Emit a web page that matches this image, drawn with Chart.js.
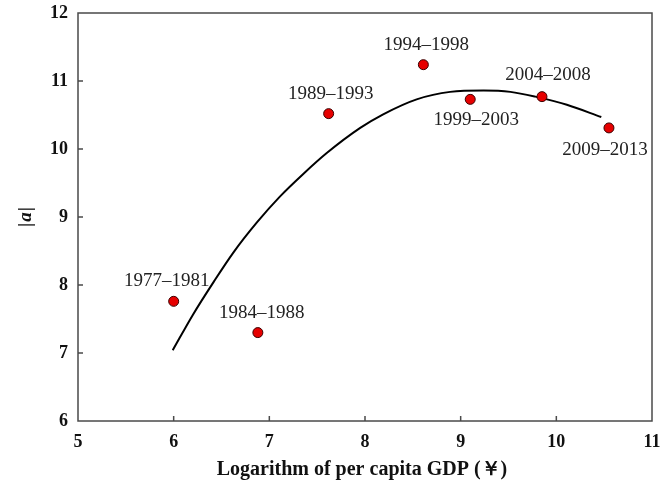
<!DOCTYPE html>
<html>
<head>
<meta charset="utf-8">
<script src="https://cdn.jsdelivr.net/npm/chart.js@4/dist/chart.umd.min.js"></script>
<style>
    html, body { margin: 0; padding: 0; background: #fff; }
    #canvas { display: block; }
</style>
</head>
<body>
<canvas id="canvas" width="662" height="481"></canvas>
<script>
// observed periods
var periods = ['1977–1981', '1984–1988', '1989–1993', '1994–1998', '1999–2003', '2004–2008', '2009–2013'];
var gdpLog = [6.00, 6.88, 7.62, 8.61, 9.10, 9.85, 10.55];
var absA = [7.76, 7.30, 10.52, 11.24, 10.73, 10.77, 10.31];

// fitted curve
var fitX = [5.99, 6.20, 6.42, 6.62, 6.87, 7.11, 7.36, 7.60, 7.95, 8.19, 8.54, 8.89, 9.24, 9.52, 9.78, 10.11, 10.47];
var fitY = [7.04, 7.56, 8.05, 8.47, 8.92, 9.30, 9.64, 9.94, 10.31, 10.51, 10.73, 10.84, 10.86, 10.84, 10.77, 10.65, 10.47];

var xTicks = [5, 6, 7, 8, 9, 10, 11];
var yTicks = [6, 7, 8, 9, 10, 11, 12];

// label offsets from each point (px)
var labelDx = [-7, 4, 2, 3, 6, 6, -4];
var labelDy = [-20, -20, -20, -20, 21, -22, 22];

var serif = '"Liberation Serif", "Times New Roman", serif';

var points = [];
for (var i = 0; i < gdpLog.length; i++) {
    points.push({x: gdpLog[i], y: absA[i]});
}
var curve = [];
for (var j = 0; j < fitX.length; j++) {
    curve.push({x: fitX[j], y: fitY[j]});
}

function noPadding(s) {
    s.paddingTop = 0;
    s.paddingBottom = 0;
    s.paddingLeft = 0;
    s.paddingRight = 0;
}

var framePlugin = {
    id: 'frame',
    afterDraw: function (chart) {
        var ctx = chart.ctx;
        var area = chart.chartArea;
        var xs = chart.scales.x;
        var ys = chart.scales.y;
        ctx.save();

        // box
        ctx.strokeStyle = '#4a4a4a';
        ctx.lineWidth = 1.5;
        ctx.strokeRect(area.left, area.top, area.right - area.left, area.bottom - area.top);

        // inner tick marks
        ctx.beginPath();
        xTicks.forEach(function (v) {
            if (v === xs.min || v === xs.max) return;
            var px = xs.getPixelForValue(v);
            ctx.moveTo(px, area.bottom);
            ctx.lineTo(px, area.bottom - 5);
        });
        yTicks.forEach(function (v) {
            if (v === ys.min || v === ys.max) return;
            var py = ys.getPixelForValue(v);
            ctx.moveTo(area.left, py);
            ctx.lineTo(area.left + 5, py);
        });
        ctx.stroke();

        // period labels
        var meta = chart.getDatasetMeta(1);
        ctx.fillStyle = '#222';
        ctx.font = '19px ' + serif;
        ctx.textAlign = 'center';
        ctx.textBaseline = 'middle';
        meta.data.forEach(function (el, k) {
            ctx.fillText(periods[k], el.x + labelDx[k], el.y + labelDy[k]);
        });

        // x title
        ctx.fillStyle = '#111';
        ctx.font = 'bold 20px ' + serif;
        ctx.fillText('Logarithm of per capita GDP (￥)', (area.left + area.right) / 2 - 3, 470);

        // y title |a| with italic a
        ctx.translate(26, (area.top + area.bottom) / 2);
        ctx.rotate(-Math.PI / 2);
        ctx.textAlign = 'left';
        var bar = 'bold 19px ' + serif;
        var ita = 'bold italic 19px ' + serif;
        ctx.font = bar;
        var wBar = ctx.measureText('|').width;
        ctx.font = ita;
        var wA = ctx.measureText('a').width;
        var x0 = -(wBar * 2 + wA + 2) / 2;
        ctx.font = bar;
        ctx.fillText('|', x0, 0);
        ctx.font = ita;
        ctx.fillText('a', x0 + wBar + 1, 0);
        ctx.font = bar;
        ctx.fillText('|', x0 + wBar + wA + 2, 0);
        ctx.restore();
    }
};

var CHART = document.getElementById('canvas');
var scatterChart = new Chart(CHART, {
    type: 'scatter',
    data: {
        datasets: [{
            label: 'fit',
            data: curve,
            showLine: true,
            borderColor: '#000',
            borderWidth: 2,
            cubicInterpolationMode: 'monotone',
            pointRadius: 0,
            fill: false,
            order: 2
        }, {
            label: '|a|',
            data: points,
            backgroundColor: '#e60000',
            borderColor: '#3a0000',
            borderWidth: 1,
            pointRadius: 5,
            order: 1
        }]
    },
    options: {
        responsive: false,
        animation: false,
        devicePixelRatio: 1,
        layout: {padding: {top: 13, right: 10, left: 0, bottom: 0}},
        plugins: {
            legend: {display: false},
            tooltip: {enabled: false}
        },
        scales: {
            x: {
                type: 'linear',
                min: 5,
                max: 11,
                afterFit: function (s) { s.height = 60; noPadding(s); },
                afterBuildTicks: function (s) {
                    s.ticks = xTicks.map(function (v) { return {value: v}; });
                },
                grid: {display: false},
                border: {display: false},
                ticks: {
                    color: '#111',
                    padding: 3,
                    maxRotation: 0,
                    font: {family: serif, size: 18, weight: 'bold'}
                }
            },
            y: {
                type: 'linear',
                min: 6,
                max: 12,
                afterFit: function (s) { s.width = 78; noPadding(s); },
                afterBuildTicks: function (s) {
                    s.ticks = yTicks.map(function (v) { return {value: v}; });
                },
                grid: {display: false},
                border: {display: false},
                ticks: {
                    color: '#111',
                    padding: 2,
                    font: {family: serif, size: 18, weight: 'bold'}
                }
            }
        }
    },
    plugins: [framePlugin]
});
</script>
</body>
</html>
